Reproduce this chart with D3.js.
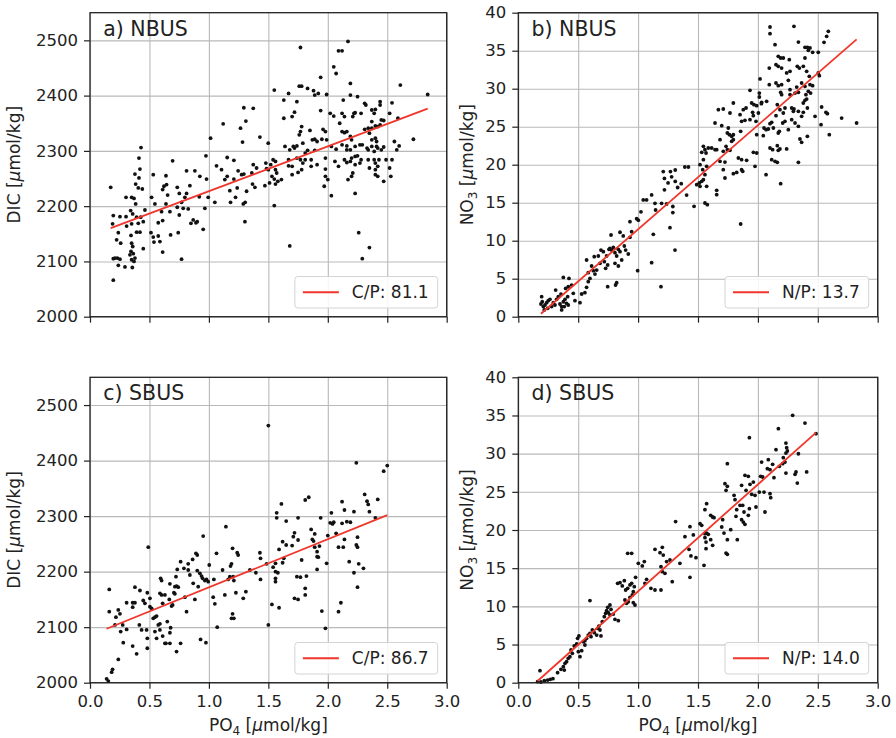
<!DOCTYPE html>
<meta charset="utf-8">
<style>
body, html {
  margin: 0;
  padding: 0;
  background: #fff;
}
svg {
  display: block;
  font-family: "DejaVu Sans", sans-serif;
}
.grid line { stroke: #b9b9b9; stroke-width: 1.1px; }
.grid path { display: none; }
.axis path { display: none; }
.axis line { stroke: #222; stroke-width: 1.2px; }
.axis text { font-size: 16.5px; fill: #222; font-family: "DejaVu Sans", sans-serif; }
</style>
<body>
<script src="https://cdn.jsdelivr.net/npm/d3@7"></script>
<script>

var width = 896,
    height = 738

// tick values
var xTicks = [0, 0.5, 1.0, 1.5, 2.0, 2.5, 3.0]
var dicTicks = [2000, 2100, 2200, 2300, 2400, 2500]
var no3Ticks = [0, 5, 10, 15, 20, 25, 30, 35, 40]

// panel labels and fitted ratios
var panelTitles = ["a) NBUS", "b) NBUS", "c) SBUS", "d) SBUS"]
var legendLabels = ["C/P: 81.1", "N/P: 13.7", "C/P: 86.7", "N/P: 14.0"]
var fitSlopes = [81.1, 13.7, 86.7, 14.0]
var fitIntercepts = [2146, -2.2, 2085, -2.03]

// a) NBUS  PO4 vs DIC
var nbusDic = [
[0.174,2234],[0.196,2183],[0.190,2168],[0.252,2181],[0.303,2181],[0.303,2216],[0.350,2216],[0.370,2214],
[0.384,2204],[0.342,2192],[0.359,2186],[0.392,2180],[0.426,2180],[0.448,2172],[0.350,2168],[0.308,2164],
[0.406,2169],[0.420,2153],[0.238,2152],[0.224,2139],[0.258,2133],[0.392,2153],[0.345,2147],[0.350,2133],
[0.359,2127],[0.345,2118],[0.364,2114],[0.336,2112],[0.378,2106],[0.350,2103],[0.370,2100],[0.196,2105],
[0.210,2106],[0.230,2106],[0.252,2104],[0.238,2093],[0.294,2090],[0.356,2089],[0.196,2066],[0.448,2123],
[0.378,2258],[0.412,2287],[0.429,2306],[0.420,2267],[0.412,2251],[0.406,2233],[0.440,2231],[0.384,2240],
[0.462,2193],[0.518,2216],[0.532,2257],[0.546,2204],[0.513,2152],[0.532,2144],[0.538,2135],[0.574,2146],
[0.588,2136],[0.611,2117],[0.574,2170],[0.611,2174],[0.602,2190],[0.639,2255],[0.622,2236],[0.611,2230],
[0.644,2239],[0.653,2220],[0.639,2204],[0.672,2190],[0.678,2148],[0.695,2282],[0.734,2234],[0.751,2223],
[0.734,2198],[0.751,2184],[0.742,2152],[0.770,2104],[0.770,2207],[0.784,2196],[0.812,2264],[0.798,2216],
[0.812,2223],[0.826,2195],[0.840,2237],[0.849,2169],[0.868,2175],[0.882,2264],[0.891,2170],[0.902,2172],
[0.919,2217],[0.924,2254],[0.952,2158],[0.966,2196],[0.975,2291],[0.980,2249],[0.994,2216],[1.014,2323],
[1.050,2207],[1.064,2273],[1.106,2266],[1.120,2349],[1.134,2248],[1.154,2288],[1.154,2254],[1.176,2228],
[1.182,2207],[1.210,2283],[1.210,2249],[1.224,2216],[1.238,2233],[1.246,2264],[1.266,2341],[1.275,2257],
[1.283,2316],[1.289,2204],[1.294,2378],[1.294,2258],[1.311,2354],[1.303,2172],[1.305,2207],[1.317,2227],
[1.361,2260],[1.373,2377],[1.367,2240],[1.373,2275],[1.387,2234],[1.401,2269],[1.429,2325],[1.479,2278],
[1.485,2268],[1.471,2237],[1.499,2314],
[1.50,2266],[1.52,2275],[1.54,2284],[1.56,2281],[1.56,2266],[1.53,2254],[1.55,2249],[1.57,2260],
[1.51,2242],[1.56,2240],[1.58,2245],[1.61,2248],[1.55,2201],[1.68,2128],[1.55,2410],[1.63,2392],
[1.63,2359],[1.67,2404],[1.70,2362],[1.72,2370],[1.74,2389],[1.77,2487],[1.76,2417],[1.78,2417],
[1.83,2413],[1.88,2409],[1.89,2401],[1.92,2404],[1.99,2402],[1.94,2433],[1.94,2373],[1.77,2335],
[1.76,2329],[1.78,2344],[1.79,2314],[1.72,2305],[1.71,2308],[1.74,2309],[1.68,2302],[1.64,2308],
[1.67,2284],[1.67,2273],[1.70,2272],[1.70,2257],[1.74,2287],[1.77,2284],[1.78,2266],[1.75,2261],
[1.79,2278],[1.81,2296],[1.81,2284],[1.83,2301],[1.85,2337],[1.87,2320],[1.89,2321],[1.86,2284],
[1.86,2272],[1.89,2301],[1.91,2317],[1.91,2275],[1.95,2321],[1.96,2339],[1.98,2335],[1.99,2320],
[1.98,2287],[1.98,2267],[1.98,2254],[1.97,2236],[2.00,2248],[2.03,2219],[2.02,2368],[2.05,2363],
[2.05,2452],[2.07,2440],[2.09,2481],[2.12,2481],[2.17,2498],[2.19,2422],[2.13,2392],[2.19,2401],
[2.25,2398],[2.22,2368],[2.21,2362],[2.23,2369],[2.28,2368],[2.31,2386],[2.32,2383],[2.12,2368],
[2.14,2362],[2.10,2350],[2.12,2335],[2.14,2333],[2.16,2335],[2.19,2326],[2.20,2320],[2.03,2308],
[2.07,2303],[2.12,2311],[2.16,2309],[2.16,2302],[2.19,2302],[2.23,2308],[2.27,2311],[2.29,2311],
[2.06,2281],[2.09,2272],[2.14,2284],[2.16,2279],[2.19,2281],[2.20,2287],[2.23,2290],[2.25,2291],
[2.23,2275],[2.27,2278],[2.28,2284],[2.21,2260],[2.20,2254],[2.17,2248],[2.23,2223],[2.26,2152],
[2.35,2125],[2.29,2105],[2.31,2339],[2.34,2341],[2.35,2332],[2.37,2341],[2.40,2345],[2.42,2344],
[2.44,2347],[2.37,2320],[2.40,2323],[2.41,2317],[2.33,2305],[2.34,2302],[2.37,2308],[2.39,2299],
[2.41,2308],[2.42,2305],[2.45,2302],[2.47,2307],[2.34,2284],[2.35,2269],[2.39,2284],[2.40,2278],
[2.43,2284],[2.42,2272],[2.40,2266],[2.40,2257],[2.42,2254],[2.47,2245],[2.37,2374],[2.40,2375],
[2.44,2389],[2.44,2383],[2.37,2353],[2.39,2368],[2.45,2356],[2.47,2355],[2.52,2368],[2.54,2387],
[2.56,2317],[2.58,2302],[2.60,2309],[2.54,2284],[2.52,2269],[2.53,2254],[2.49,2284],[2.61,2419],
[2.72,2321],[2.84,2402],[2.59,2359]
]

// b) NBUS  PO4 vs NO3
var nbusNo3 = [
[0.195,2.63],[0.200,1.97],[0.189,1.67],[0.209,1.33],[0.223,1.54],[0.237,1.85],[0.250,2.11],[0.264,2.28],
[0.217,0.89],[0.245,1.10],[0.278,1.33],[0.306,1.54],[0.292,1.85],[0.320,2.28],[0.334,2.63],[0.348,1.67],
[0.362,1.33],[0.376,1.97],[0.390,2.28],[0.403,1.76],[0.362,0.89],[0.384,1.33],[0.417,1.54],[0.412,2.63],
[0.312,3.50],[0.356,2.98],[0.395,3.72],[0.417,3.94],[0.376,5.17],[0.423,5.04],[0.445,4.16],[0.459,3.07],
[0.473,2.11],[0.515,1.85],[0.556,3.16],[0.570,3.86],[0.584,4.61],[0.598,5.04],[0.584,5.79],[0.570,7.46],
[0.612,6.67],[0.626,6.05],[0.640,5.61],[0.654,6.14],[0.634,7.90],[0.668,7.99],[0.682,7.02],[0.690,8.77],
[0.710,8.55],[0.718,7.24],[0.729,6.36],[0.746,6.80],[0.737,7.99],[0.757,8.86],[0.765,8.99],[0.779,8.77],
[0.793,9.12],[0.807,8.42],[0.821,7.99],[0.835,8.86],[0.849,8.55],[0.807,7.02],[0.835,6.67],[0.863,7.46],
[0.774,10.75],[0.849,11.11],[0.876,10.63],[0.885,9.30],[0.896,8.77],[0.918,8.25],[0.932,10.44],[0.946,11.19],
[0.932,12.5],[0.988,12.9],[1.002,12.7],[1.024,13.8],[1.043,15.36],[1.071,15.36],[1.113,16.02],[1.141,14.92],
[1.196,14.92],[1.238,14.83],[1.146,14.04],[1.127,10.84],[0.996,6.05],[1.113,7.11],[1.191,3.95],[1.308,8.77],
[1.266,11.71],[0.746,3.95],[0.812,4.17],[0.821,4.47],[0.529,2.99],
[1.21,19.1],[1.27,19.1],[1.31,19.3],[1.28,18.4],[1.22,18.2],[1.31,17.8],[1.36,17.5],[1.39,19.7],
[1.42,19.7],[1.29,14.5],[1.29,13.7],[1.405,16.0],[1.22,16.7],[1.25,17.6],[1.33,17.0],
[2.101,38.12],[2.101,37.24],[2.301,38.21],[2.143,35.79],[2.338,36.14],[2.588,37.55],[2.574,36.89],[2.552,36.10],
[2.393,35.44],[2.413,35.44],[2.435,35.36],[2.421,35.05],[2.457,34.78],[2.504,34.78],[2.170,34.26],[2.190,34.04],
[2.212,34.04],[2.262,33.82],[2.151,33.16],[2.170,32.94],[2.198,32.72],[2.240,32.07],[2.268,32.28],[2.329,32.94],
[2.346,32.72],[2.379,32.94],[2.407,32.28],[2.393,34.04],[2.429,31.63],[2.504,32.07],[2.513,31.71],[2.095,32.72],
[2.095,30.53],[2.018,31.28],[2.151,30.75],[2.170,30.40],[2.198,30.53],[2.254,31.10],[2.268,29.87],[2.190,29.52],
[2.198,29.21],[2.268,29.21],[2.310,29.43],[2.338,29.52],[2.324,30.22],[2.365,30.75],[2.393,30.31],[2.435,30.53],
[2.457,30.40],[2.421,29.65],[2.440,29.43],[2.401,29.21],[2.393,28.47],[2.407,28.64],[2.379,28.12],[2.413,27.46],
[2.379,26.89],[2.365,26.36],[2.282,27.46],[2.301,27.33],[2.477,26.36],[2.532,27.59],[2.568,26.89],[2.580,26.72],
[2.699,26.14],[2.824,25.49],[2.596,23.95],[2.527,25.27],[1.934,29.78],[2.012,29.43],[2.012,28.91],[2.031,28.21],
[2.073,28.34],[1.948,28.12],[1.967,27.90],[1.990,27.77],[1.901,27.46],[1.878,27.24],[1.851,26.58],[1.956,26.89],
[1.962,26.45],[1.934,25.92],[1.892,25.84],[1.864,25.71],[1.795,28.12],[1.711,27.33],[1.670,27.24],[1.767,26.80],
[1.642,25.49],[1.698,25.14],[1.753,24.83],[1.745,24.17],[1.762,23.95],[1.781,23.73],[1.795,23.95],[1.856,24.39],
[1.781,23.07],[1.795,23.29],[1.684,23.29],[1.734,22.42],[1.745,21.98],[1.767,21.89],[1.711,21.76],[1.656,21.98],
[1.545,22.42],[1.558,21.98],[1.586,22.20],[1.614,22.20],[1.642,21.98],[1.567,21.54],[1.531,21.63],[1.545,20.66],
[1.517,20.00],[1.539,19.35],[1.572,19.79],[1.558,18.69],[1.545,18.03],[1.531,17.81],[1.511,17.59],[1.489,17.37],
[1.572,17.15],[1.517,17.15],[1.656,16.63],[1.656,16.06],[1.467,14.52],[1.558,14.96],[1.578,14.74],[1.856,12.20],
[1.684,20.44],[1.725,20.35],[1.711,19.35],[1.725,18.25],[1.795,18.82],[1.823,18.99],[1.864,19.35],[1.873,19.13],
[1.837,20.88],[1.864,20.66],[1.906,20.57],[1.962,21.63],[1.990,21.54],[1.976,19.79],[1.990,23.95],[2.051,24.83],
[2.068,24.61],[2.087,24.70],[2.101,25.40],[2.115,25.57],[2.129,24.83],[2.045,23.82],[2.101,22.20],[2.123,21.98],
[2.162,22.50],[2.170,21.89],[2.184,22.07],[2.240,22.07],[2.115,20.66],[2.143,20.44],[2.162,20.31],[2.338,20.31],
[2.068,18.69],[2.190,17.50],[2.170,24.17],[2.179,24.39],[2.207,25.49],[2.226,25.71],[2.254,24.61],[2.282,25.92],
[2.310,25.49],[2.338,25.05],[2.351,23.38],[2.365,22.94],[2.413,23.73],[2.338,27.02],[2.296,27.02],[2.162,27.90],
[2.151,26.45],[2.184,27.24],[2.212,26.80],[2.226,27.46],[1.984,25.71],[2.004,26.80],[2.029,28.03]
]

// c) SBUS  PO4 vs DIC
var sbusDic = [
[0.140,2007],[0.154,2003],[0.182,2019],[0.190,2024],[0.238,2042],[0.162,2168],[0.162,2128],[0.210,2104],
[0.218,2118],[0.238,2131],[0.252,2124],[0.258,2092],[0.280,2072],[0.275,2104],[0.308,2096],[0.308,2144],
[0.359,2144],[0.378,2144],[0.359,2136],[0.359,2066],[0.392,2052],[0.378,2172],[0.420,2166],[0.415,2104],
[0.434,2095],[0.448,2148],[0.462,2143],[0.482,2162],[0.476,2095],[0.490,2244],[0.482,2080],[0.482,2062],
[0.504,2152],[0.504,2137],[0.518,2134],[0.532,2116],[0.546,2118],[0.560,2120],[0.546,2092],[0.574,2104],
[0.588,2106],[0.560,2080],[0.588,2095],[0.611,2084],[0.630,2071],[0.639,2071],[0.650,2110],[0.672,2090],
[0.672,2071],[0.678,2099],[0.728,2056],[0.762,2071],[0.594,2188],[0.602,2184],[0.588,2161],[0.602,2158],
[0.611,2143],[0.630,2158],[0.667,2150],[0.672,2178],[0.686,2138],[0.695,2140],[0.706,2162],[0.714,2160],
[0.714,2173],[0.728,2174],[0.742,2172],[0.723,2191],[0.734,2204],[0.762,2218],[0.790,2206],[0.798,2154],
[0.812,2128],[0.826,2214],[0.826,2203],[0.840,2194],[0.863,2222],[0.868,2179],[0.882,2150],[0.891,2233],
[0.902,2230],[0.902,2202],[0.910,2173],[0.924,2197],[0.938,2192],[0.952,2264],[0.947,2188],[0.966,2184],
[0.980,2186],[0.994,2182],[1.003,2212],[0.930,2078],[0.975,2072],[1.036,2154],[1.042,2186],[1.050,2142],
[1.064,2233],[1.070,2100],[1.115,2203],[1.134,2158],[1.143,2281],[1.162,2186],[1.176,2191],[1.182,2210],
[1.190,2214],[1.199,2242],[1.204,2191],[1.210,2184],[1.199,2124],[1.210,2116],[1.190,2116],[1.227,2162],
[1.238,2234],[1.246,2230],[1.289,2152],[1.311,2164],[1.345,2203],[1.395,2198],[1.429,2234],[1.434,2224],
[1.434,2186],[1.485,2214],[1.50,2463],[1.50,2104],
[1.53,2141],[1.59,2135],[1.57,2306],[1.57,2297],[1.61,2322],[1.65,2291],[1.62,2254],[1.65,2248],
[1.59,2240],[1.63,2224],[1.56,2215],[1.54,2208],[1.56,2200],[1.56,2188],[1.56,2182],[1.58,2198],
[1.62,2216],[1.72,2270],[1.71,2263],[1.75,2257],[1.70,2247],[1.75,2297],[1.74,2191],[1.77,2190],
[1.78,2221],[1.72,2152],[1.75,2150],[1.81,2170],[1.81,2158],[1.81,2329],[1.84,2334],[1.82,2192],
[1.86,2276],[1.88,2255],[1.89,2268],[1.87,2258],[1.89,2244],[1.91,2236],[1.91,2204],[1.91,2227],
[1.92,2226],[1.93,2246],[1.94,2297],[1.95,2129],[1.98,2098],[1.99,2215],[2.00,2265],[2.02,2288],
[2.03,2306],[2.04,2286],[2.05,2289],[2.07,2269],[2.09,2244],[2.12,2326],[2.12,2287],[2.13,2244],
[2.14,2311],[2.14,2258],[2.16,2290],[2.19,2289],[2.09,2128],[2.11,2144],[2.18,2218],[2.22,2198],
[2.22,2308],[2.24,2396],[2.24,2248],[2.25,2262],[2.25,2244],[2.25,2172],[2.26,2214],[2.30,2206],
[2.31,2339],[2.33,2327],[2.34,2321],[2.35,2308],[2.40,2297],[2.42,2330],[2.47,2381],[2.50,2391]
]

// d) SBUS  PO4 vs NO3
var sbusNo3 = [
[0.181,1.58],[0.161,0.14],[0.189,0.09],[0.217,0.26],[0.245,0.35],[0.267,0.44],[0.289,0.53],[0.328,1.31],
[0.356,1.75],[0.376,2.10],[0.390,2.54],[0.384,1.66],[0.403,2.76],[0.417,3.19],[0.440,4.28],[0.451,3.85],
[0.431,3.41],[0.467,4.81],[0.487,5.07],[0.495,5.81],[0.506,6.12],[0.501,4.06],[0.529,4.19],[0.515,3.41],
[0.543,5.37],[0.556,5.50],[0.570,5.81],[0.556,4.94],[0.584,6.24],[0.598,6.46],[0.607,6.03],[0.618,6.90],
[0.634,6.55],[0.654,6.24],[0.662,7.12],[0.673,7.42],[0.682,6.90],[0.690,6.12],[0.701,7.99],[0.718,8.65],
[0.729,9.08],[0.737,9.43],[0.751,9.17],[0.765,8.87],[0.774,9.60],[0.793,8.99],[0.807,8.30],[0.835,8.12],
[0.765,10.18],[0.746,9.87],[0.598,10.75],[0.890,10.83],[0.904,10.40],[0.918,10.61],[0.932,11.18],[0.952,11.49],
[0.960,10.48],[0.974,10.18],[0.829,13.01],[0.849,13.10],[0.868,12.67],[0.885,13.36],[0.896,12.14],[0.913,12.36],
[0.932,12.80],[0.946,13.01],[0.960,11.92],[0.968,12.58],[0.979,13.80],[0.913,16.95],[0.946,16.95],[1.002,15.64],
[1.035,15.29],[1.052,15.86],[1.057,13.01],[1.071,13.54],[1.107,12.36],[1.141,12.14],[1.191,12.14],[1.141,17.47],
[1.183,17.03],[1.202,17.73],[1.210,16.72],[1.191,15.20],[1.202,14.54],[1.224,14.32],[1.238,15.86],[1.266,16.07],
[1.285,13.23],[1.313,21.1],[1.349,15.64],[1.391,19.13],[1.425,17.47],[1.433,13.80],[1.441,16.60],[1.433,20.44],
[1.461,19.35],
[1.483,16.37],[1.550,15.37],[1.517,20.83],[1.531,20.61],[1.558,19.52],[1.572,19.60],[1.586,19.43],[1.558,18.99],
[1.567,18.42],[1.567,17.55],[1.606,18.73],[1.622,17.99],[1.572,23.45],[1.558,22.66],[1.606,21.92],[1.622,21.70],
[1.634,21.61],[1.706,21.35],[1.698,20.39],[1.717,19.60],[1.745,18.73],[1.734,16.98],[1.745,16.81],[1.773,20.04],
[1.828,18.73],[1.745,28.69],[1.725,26.07],[1.745,25.72],[1.734,25.19],[1.801,24.54],[1.809,23.97],[1.851,23.23],
[1.823,22.66],[1.817,21.79],[1.873,23.23],[1.884,22.36],[1.864,21.35],[1.878,21.04],[1.892,20.74],[1.920,21.92],
[1.929,22.79],[1.920,27.03],[1.929,32.09],[1.892,27.16],[1.864,25.85],[1.901,25.19],[1.934,25.98],[1.962,26.28],
[1.948,24.67],[1.976,24.54],[1.984,23.01],[2.012,24.97],[2.023,27.03],[2.040,26.94],[2.051,24.97],[2.059,22.36],
[2.101,24.76],[2.107,24.23],[2.031,28.90],[2.087,29.21],[2.079,28.03],[2.101,27.90],[2.123,28.60],[2.134,26.85],
[2.151,30.52],[2.171,33.27],[2.179,28.34],[2.212,29.47],[2.207,28.69],[2.226,28.90],[2.234,31.39],[2.240,30.78],
[2.246,30.35],[2.234,30.08],[2.234,27.46],[2.290,35.02],[2.310,27.29],[2.318,27.60],[2.329,26.15],[2.338,29.99],
[2.393,34.01],[2.407,27.60],[2.485,32.62]
]

var datasets = [nbusDic, nbusNo3, sbusDic, sbusNo3]

// layout of the four axes
var boxes = [
  {left: 90,    right: 446.7, top: 12.7,  bottom: 316.7},
  {left: 518.3, right: 877.7, top: 12.7,  bottom: 316.7},
  {left: 90,    right: 446.7, top: 377.3, bottom: 682.7},
  {left: 518.3, right: 877.7, top: 377.3, bottom: 682.7}
]

var red = "#f0362b"

var svg = d3.select("body").append("svg")
    .attr("width", width)
    .attr("height", height)

svg.append("rect")
    .attr("width", width)
    .attr("height", height)
    .attr("fill", "#fff")

// writes "NO3 [umol/kg]" style labels with sub and italic pieces
function richText (text, parts) {
  parts.forEach(function (p) {
    var t = text.append("tspan").text(p[0])
    if (p[1] === "sub") t.attr("font-size", "12px").attr("dy", 4)
    if (p[1] === "after") t.attr("dy", -4)
    if (p[1] === "it") t.attr("font-style", "italic")
  })
}

var dicLabel = [["DIC ["], ["\u03bc", "it"], ["mol/kg]"]]
var no3Label = [["NO"], ["3", "sub"], [" [", "after"], ["\u03bc", "it"], ["mol/kg]"]]
var po4Label = [["PO"], ["4", "sub"], [" [", "after"], ["\u03bc", "it"], ["mol/kg]"]]

boxes.forEach(function (b, i) {
  var isDic = (i % 2 === 0),
      isBottom = (i >= 2),
      w = b.right - b.left,
      h = b.bottom - b.top,
      data = datasets[i]

  var x = d3.scaleLinear().domain([0, 3]).range([0, w])
  var y = isDic
      ? d3.scaleLinear().domain([2000, 2550]).range([h, 0])
      : d3.scaleLinear().domain([0, 40]).range([h, 0])
  var yTicks = isDic ? dicTicks : no3Ticks

  var g = svg.append("g").attr("transform", "translate(" + b.left + "," + b.top + ")")

  // grid
  g.append("g").attr("class", "grid")
      .attr("transform", "translate(0," + h + ")")
      .call(d3.axisBottom(x).tickValues(xTicks).tickSize(-h).tickFormat(""))
  g.append("g").attr("class", "grid")
      .call(d3.axisLeft(y).tickValues(yTicks).tickSize(-w).tickFormat(""))

  // scatter
  g.append("g").selectAll("circle")
      .data(data)
      .enter().append("circle")
      .attr("cx", function (d) { return x(d[0]) })
      .attr("cy", function (d) { return y(d[1]) })
      .attr("r", 1.9)
      .attr("fill", "#111")

  // regression line over the data range
  var ext = d3.extent(data, function (d) { return d[0] })
  var fit = ext.map(function (v) { return [v, fitIntercepts[i] + fitSlopes[i] * v] })
  g.append("path")
      .datum(fit)
      .attr("fill", "none")
      .attr("stroke", red)
      .attr("stroke-width", 1.8)
      .attr("d", d3.line().x(function (d) { return x(d[0]) }).y(function (d) { return y(d[1]) }))

  // frame
  g.append("rect")
      .attr("width", w)
      .attr("height", h)
      .attr("fill", "none")
      .attr("stroke", "#222")
      .attr("stroke-width", 1.3)

  // axes
  var xAxis = d3.axisBottom(x).tickValues(xTicks).tickSize(6).tickPadding(7)
      .tickFormat(isBottom ? d3.format(".1f") : "")
  g.append("g").attr("class", "axis")
      .attr("transform", "translate(0," + h + ")")
      .call(xAxis)
  g.append("g").attr("class", "axis")
      .call(d3.axisLeft(y).tickValues(yTicks).tickSize(6).tickPadding(6).tickFormat(d3.format("d")))

  // panel title
  g.append("text")
      .attr("x", 13.3)
      .attr("y", 23)
      .attr("font-size", "20.5px")
      .attr("fill", "#222")
      .text(panelTitles[i])

  // y label
  var yl = g.append("text")
      .attr("transform", "translate(" + (isDic ? -70 : -45.5) + "," + (h / 2) + ") rotate(-90)")
      .attr("text-anchor", "middle")
      .attr("font-size", "17px")
      .attr("fill", "#222")
  richText(yl, isDic ? dicLabel : no3Label)

  // x label
  if (isBottom) {
    var xl = g.append("text")
        .attr("x", w / 2)
        .attr("y", h + 48)
        .attr("text-anchor", "middle")
        .attr("font-size", "17px")
        .attr("fill", "#222")
    richText(xl, po4Label)
  }

  // legend
  var leg = g.append("g")
  var lt = leg.append("text")
      .attr("font-size", "17px")
      .attr("fill", "#222")
      .attr("y", 6)
      .text(legendLabels[i])
  var tw = lt.node().getComputedTextLength()
  var lw = 8 + 36 + 13 + tw + 9, lh = 31.5
  var lx = w - 9 - lw, ly = h - 8.7 - lh
  leg.attr("transform", "translate(" + lx + "," + ly + ")")
  leg.insert("rect", "text")
      .attr("width", lw)
      .attr("height", lh)
      .attr("rx", 3)
      .attr("fill", "#fff")
      .attr("fill-opacity", 0.85)
      .attr("stroke", "#d4d4d4")
      .attr("stroke-width", 1)
  leg.insert("line", "text")
      .attr("x1", 8).attr("x2", 44)
      .attr("y1", lh / 2).attr("y2", lh / 2)
      .attr("stroke", red)
      .attr("stroke-width", 1.8)
  lt.attr("x", 57).attr("y", lh / 2 + 6.2)
})

</script>
</body>
